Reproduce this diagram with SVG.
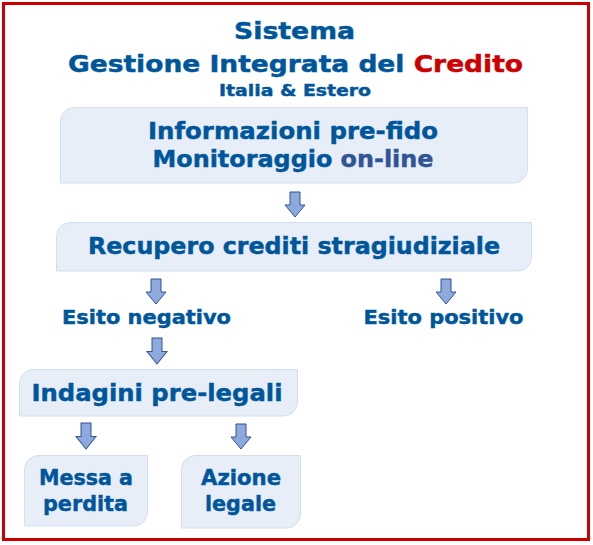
<svg xmlns="http://www.w3.org/2000/svg" width="593" height="545" viewBox="0 0 593 545">
<style>
text{font-family:"DejaVu Sans",Verdana,sans-serif;font-weight:bold;fill:#00569B;stroke:#00569B;stroke-width:0.45;text-anchor:middle}
tspan.red{fill:#CC0000;stroke:#CC0000}
tspan.blu{fill:#2F5597;stroke:#2F5597}
.box{fill:#E8EEF8;stroke:#D3DEF0;stroke-width:1}
.arr{fill:#8EA9DB;stroke:#2F5597;stroke-width:1}
</style>
<defs>
<path id="ar" class="arr" d="M-5,0 H5 V13 H10 L0,25 L-10,13 H-5 Z"/>
</defs>
<rect x="3.5" y="3.5" width="585" height="536" fill="#fff" stroke="#CC0000" stroke-width="3"/>
<g id="title">
<text x="294.5" y="39" font-size="23" textLength="121" lengthAdjust="spacingAndGlyphs">Sistema</text>
<text x="295.5" y="72" font-size="23" textLength="455" lengthAdjust="spacingAndGlyphs">Gestione Integrata del <tspan class="red">Credito</tspan></text>
<text x="295" y="96" font-size="16" textLength="152" lengthAdjust="spacingAndGlyphs">Italia &amp; Estero</text>
</g>
<g id="n1">
<path class="box" d="M74,107.5 H527.5 V169 a14,14 0 0 1 -14,14 H60.5 V121.5 a14,14 0 0 1 14,-14 Z"/>
<text x="293" y="139" font-size="23" textLength="290" lengthAdjust="spacingAndGlyphs">Informazioni pre-fido</text>
<text x="293" y="167" font-size="23" textLength="281" lengthAdjust="spacingAndGlyphs">Monitoraggio <tspan class="blu">on-line</tspan></text>
</g>
<g id="n2">
<path class="box" d="M70,222.5 H531.5 V257 a14,14 0 0 1 -14,14 H56.5 V236.5 a14,14 0 0 1 14,-14 Z"/>
<text x="294" y="254" font-size="23" textLength="412" lengthAdjust="spacingAndGlyphs">Recupero crediti stragiudiziale</text>
</g>
<g id="n3">
<text x="146.5" y="323.5" font-size="19.5" textLength="169" lengthAdjust="spacingAndGlyphs">Esito negativo</text>
</g>
<g id="n4">
<text x="443.5" y="323.5" font-size="19.5" textLength="160" lengthAdjust="spacingAndGlyphs">Esito positivo</text>
</g>
<g id="n5">
<path class="box" d="M33,369.5 H297.5 V402 a14,14 0 0 1 -14,14 H19.5 V383.5 a14,14 0 0 1 14,-14 Z"/>
<text x="157" y="401" font-size="23.5" textLength="251" lengthAdjust="spacingAndGlyphs">Indagini pre-legali</text>
</g>
<g id="n6">
<path class="box" d="M38,455.5 H147.5 V512 a14,14 0 0 1 -14,14 H24.5 V469.5 a14,14 0 0 1 14,-14 Z"/>
<text x="86" y="485" font-size="21" textLength="94" lengthAdjust="spacingAndGlyphs">Messa a</text>
<text x="85.5" y="510.5" font-size="21" textLength="85" lengthAdjust="spacingAndGlyphs">perdita</text>
</g>
<g id="n7">
<path class="box" d="M195,455.5 H300.5 V514 a14,14 0 0 1 -14,14 H181.5 V469.5 a14,14 0 0 1 14,-14 Z"/>
<text x="241" y="485" font-size="21" textLength="80" lengthAdjust="spacingAndGlyphs">Azione</text>
<text x="240.5" y="510.5" font-size="21" textLength="71" lengthAdjust="spacingAndGlyphs">legale</text>
</g>
<g id="connectors">
<use href="#ar" transform="translate(295,192)"/>
<use href="#ar" transform="translate(156,279)"/>
<use href="#ar" transform="translate(446,279)"/>
<use href="#ar" transform="translate(157,338) scale(1,1.04)"/>
<use href="#ar" transform="translate(86,423) scale(1,1.04)"/>
<use href="#ar" transform="translate(241,424)"/>
</g>
</svg>
